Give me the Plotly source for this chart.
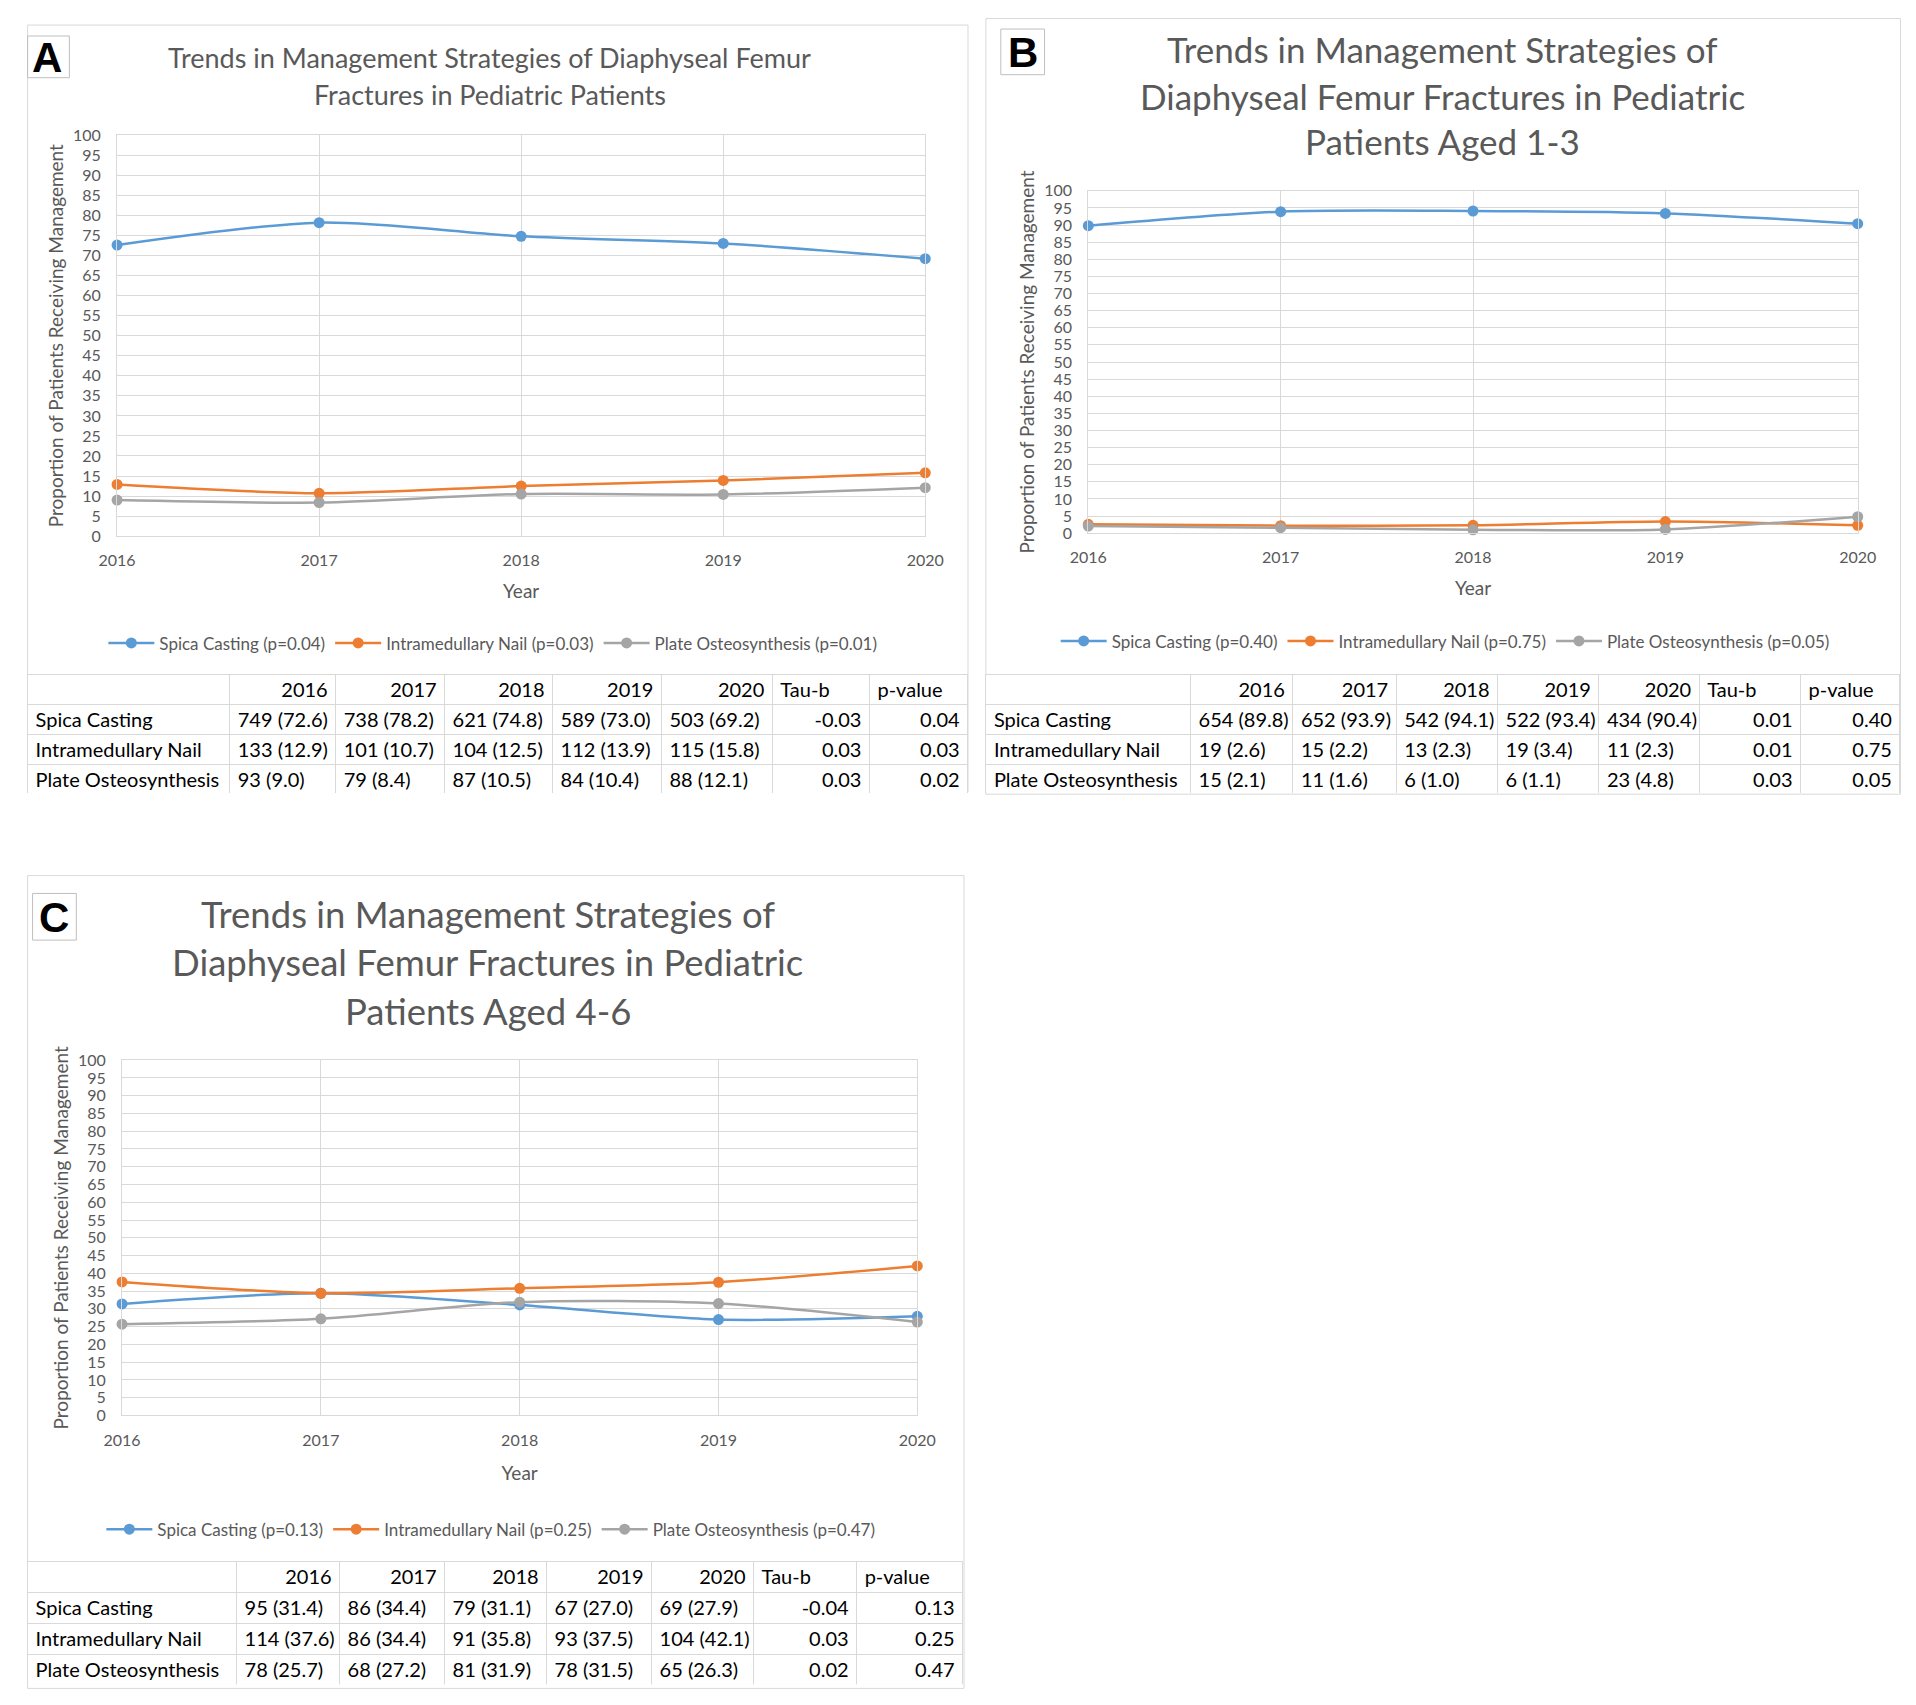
import plotly.graph_objects as go

W, H = 1916, 1705
# calibration between page pixels and paper coordinates
X_SHIFT, X_SCALE = 18.5, 0.986
Y_SHIFT, Y_SCALE = 9.9, 0.9964
OFF = 8

years = [2016, 2017, 2018, 2019, 2020]
year_labels = ["2016", "2017", "2018", "2019", "2020"]
rows = ["Spica Casting", "Intramedullary Nail", "Plate Osteosynthesis"]

# panel A - all patients
a_spica_n = [749, 738, 621, 589, 503]
a_spica_pct = [72.6, 78.2, 74.8, 73.0, 69.2]
a_nail_n = [133, 101, 104, 112, 115]
a_nail_pct = [12.9, 10.7, 12.5, 13.9, 15.8]
a_plate_n = [93, 79, 87, 84, 88]
a_plate_pct = [9.0, 8.4, 10.5, 10.4, 12.1]
a_tau = ["-0.03", "0.03", "0.03"]
a_pval = ["0.04", "0.03", "0.02"]
a_legend_p = ["0.04", "0.03", "0.01"]

# panel B - aged 1-3
b_spica_n = [654, 652, 542, 522, 434]
b_spica_pct = [89.8, 93.9, 94.1, 93.4, 90.4]
b_nail_n = [19, 15, 13, 19, 11]
b_nail_pct = [2.6, 2.2, 2.3, 3.4, 2.3]
b_plate_n = [15, 11, 6, 6, 23]
b_plate_pct = [2.1, 1.6, 1.0, 1.1, 4.8]
b_tau = ["0.01", "0.01", "0.03"]
b_pval = ["0.40", "0.75", "0.05"]
b_legend_p = ["0.40", "0.75", "0.05"]

# panel C - aged 4-6
c_spica_n = [95, 86, 79, 67, 69]
c_spica_pct = [31.4, 34.4, 31.1, 27.0, 27.9]
c_nail_n = [114, 86, 91, 93, 104]
c_nail_pct = [37.6, 34.4, 35.8, 37.5, 42.1]
c_plate_n = [78, 68, 81, 78, 65]
c_plate_pct = [25.7, 27.2, 31.9, 31.5, 26.3]
c_tau = ["-0.04", "0.03", "0.02"]
c_pval = ["0.13", "0.25", "0.47"]
c_legend_p = ["0.13", "0.25", "0.47"]

colors = ["#5B9BD5", "#ED7D31", "#A5A5A5"]
GRID = "#D9D9D9"
TXT = "#595959"
FONT = "Lato"


def clamp(v):
    return min(max(v, 0.6 / W), 1 - 0.6 / W)


def fx(px):
    return clamp(((px - X_SHIFT) / X_SCALE - OFF) / W)


def fy(py):
    return clamp(1 - ((py - Y_SHIFT) / Y_SCALE - OFF) / H)


fig = go.Figure()


def add_panel(k, ns, pcts, tau, pval, leg_p, plot_box, table_box, col_w,
              legend_pos, row_h, border, letter, letter_box, title_lines,
              title_y, title_x, title_size, year_standoff):
    xa = "x" if k == 1 else "x%d" % k
    ya = "y" if k == 1 else "y%d" % k
    lg = "legend" if k == 1 else "legend%d" % k

    for name, pct, col, p in zip(rows, pcts, colors, leg_p):
        fig.add_trace(go.Scatter(
            x=years, y=pct, name="%s (p=%s)" % (name, p),
            mode="lines+markers", line=dict(color=col, width=2.5, shape="spline", smoothing=0.8),
            marker=dict(color=col, size=11), cliponaxis=False,
            xaxis=xa, yaxis=ya, legend=lg,
        ))

    x0, y0, x1, y1 = plot_box
    axis_font = dict(family=FONT, size=16, color=TXT)
    fig.layout["xaxis" if k == 1 else "xaxis%d" % k] = dict(
        domain=[fx(x0), fx(x1)], anchor=ya, range=[2016, 2020],
        tickvals=years, ticktext=year_labels, tickfont=axis_font,
        showgrid=True, gridcolor=GRID, showline=True, linecolor=GRID, mirror=True,
        zeroline=False, ticklabelstandoff=10,
        title=dict(text="Year", font=dict(family=FONT, size=19, color=TXT), standoff=year_standoff),
    )
    fig.layout["yaxis" if k == 1 else "yaxis%d" % k] = dict(
        domain=[fy(y1), fy(y0)], anchor=xa, range=[0, 100], dtick=5,
        tickfont=axis_font, showgrid=True, gridcolor=GRID, showline=True,
        linecolor=GRID, mirror=True, zeroline=False, ticklabelstandoff=12,
        title=dict(text="Proportion of Patients Receiving Management",
                   font=dict(family=FONT, size=19, color=TXT), standoff=4),
    )
    lx, ly = legend_pos
    fig.layout[lg] = dict(
        x=fx(lx), y=fy(ly), xanchor="center", yanchor="middle", orientation="h",
        font=dict(family=FONT, size=17, color=TXT), itemwidth=46, bgcolor="rgba(0,0,0,0)",
    )

    # table under the chart (non-breaking space keeps "n (pct)" on one line)
    cols = [[r.replace(" ", "\u00a0") for r in rows]]
    for i in range(5):
        cols.append(["%d\u00a0(%.1f)" % (n[i], p[i]) for n, p in zip(ns, pcts)])
    cols.append(tau)
    cols.append(pval)
    tx0, ty0, tx1, ty1 = table_box
    fig.add_trace(go.Table(
        domain=dict(x=[fx(tx0), fx(tx1)], y=[fy(ty1), fy(ty0)]),
        columnwidth=col_w,
        header=dict(values=[""] + year_labels + ["Tau-b", "p-value"],
                    align=["left"] + ["right"] * 5 + ["left", "left"],
                    font=dict(family=FONT, size=20, color="black"),
                    fill_color="white", line_color=GRID, height=row_h),
        cells=dict(values=cols,
                   align=["left"] * 6 + ["right", "right"],
                   font=dict(family=FONT, size=20, color="black"),
                   fill_color="white", line_color=GRID, height=row_h),
    ))

    bx0, by0, bx1, by1 = border
    fig.add_shape(type="rect", xref="paper", yref="paper",
                  x0=fx(bx0), x1=fx(bx1), y0=fy(by1), y1=fy(by0),
                  line=dict(color=GRID, width=1), layer="below")
    lx0, ly0, lx1, ly1 = letter_box
    fig.add_shape(type="rect", xref="paper", yref="paper",
                  x0=fx(lx0), x1=fx(lx1), y0=fy(ly1), y1=fy(ly0),
                  line=dict(color="#BFBFBF", width=1))
    fig.add_annotation(text="<b>%s</b>" % letter, xref="paper", yref="paper",
                       x=fx((lx0 + lx1) / 2), y=fy((ly0 + ly1) / 2 + 1),
                       xanchor="center", yanchor="middle", showarrow=False,
                       font=dict(family="Liberation Sans", size=42, color="black"))
    for line, ty in zip(title_lines, title_y):
        fig.add_annotation(text=line, xref="paper", yref="paper",
                           x=fx(title_x), y=fy(ty), xanchor="center", yanchor="middle",
                           showarrow=False, font=dict(family=FONT, size=title_size, color=TXT))


add_panel(1, [a_spica_n, a_nail_n, a_plate_n], [a_spica_pct, a_nail_pct, a_plate_pct],
          a_tau, a_pval, a_legend_p,
          plot_box=(117, 136, 930, 540), table_box=(15, 679, 973, 799),
          col_w=[206, 108, 111, 110, 111, 113, 99, 100], legend_pos=(495, 648), row_h=30,
          border=(15, 25, 973, 798), letter="A", letter_box=(25, 36, 69, 78),
          title_lines=["Trends in Management Strategies of Diaphyseal Femur",
                       "Fractures in Pediatric Patients"],
          title_y=[58, 95], title_x=492, title_size=27, year_standoff=16)

add_panel(2, [b_spica_n, b_nail_n, b_plate_n], [b_spica_pct, b_nail_pct, b_plate_pct],
          b_tau, b_pval, b_legend_p,
          plot_box=(1094, 192, 1868, 537), table_box=(991, 679, 1911, 799),
          col_w=[206, 103, 104, 102, 102, 101, 102, 100], legend_pos=(1453, 646), row_h=30,
          border=(991, 10, 1911, 800), letter="B", letter_box=(1006, 29, 1050, 75),
          title_lines=["Trends in Management Strategies of",
                       "Diaphyseal Femur Fractures in Pediatric",
                       "Patients Aged 1-3"],
          title_y=[49, 96, 142], title_x=1450, title_size=35, year_standoff=16)

add_panel(3, [c_spica_n, c_nail_n, c_plate_n], [c_spica_pct, c_nail_pct, c_plate_pct],
          c_tau, c_pval, c_legend_p,
          plot_box=(122, 1068, 922, 1426), table_box=(15, 1573, 968, 1697),
          col_w=[213, 105, 107, 104, 107, 104, 105, 108], legend_pos=(493, 1541), row_h=31,
          border=(15, 882, 969, 1701), letter="C", letter_box=(32, 900, 76, 947),
          title_lines=["Trends in Management Strategies of",
                       "Diaphyseal Femur Fractures in Pediatric",
                       "Patients Aged 4-6"],
          title_y=[921, 969, 1018], title_x=490, title_size=36.5, year_standoff=19)

fig.update_layout(
    width=W, height=H, margin=dict(l=0, r=0, t=0, b=0),
    paper_bgcolor="white", plot_bgcolor="white",
    font=dict(family=FONT, color=TXT),
)

fig.write_html("out.html")
